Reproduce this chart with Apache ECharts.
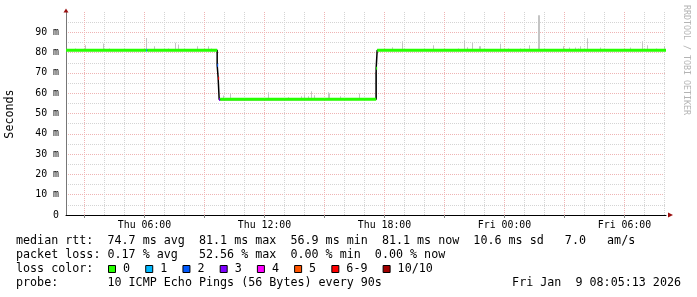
<!DOCTYPE html>
<html><head><meta charset="utf-8">
<script src="https://cdn.jsdelivr.net/npm/echarts@6/dist/echarts.min.js"></script>
<style>html,body{margin:0;padding:0;background:#fff}#c{width:697px;height:297px}</style>
</head><body><div id="c"></div>
<script>
// x unit: minutes since Thu Jan 8 2026 00:00
const xMin = 124.5, xMax = 1924.5;
const xLabelValues = [360, 720, 1080, 1440, 1800];
const xLabelTexts = ['Thu 06:00', 'Thu 12:00', 'Thu 18:00', 'Fri 00:00', 'Fri 06:00'];
const xMajorGrid = [180, 360, 540, 720, 900, 1080, 1260, 1440, 1620, 1800];
const xMinorGrid = [240, 300, 420, 480, 600, 660, 780, 840, 960, 1020, 1140, 1200, 1320, 1380, 1500, 1560, 1680, 1740, 1860, 1920];
const yTickLabels = ['0', '10 m', '20 m', '30 m', '40 m', '50 m', '60 m', '70 m', '80 m', '90 m'];

const lossLabels = ['0', '1', '2', '3', '4', '5', '6-9', '10/10'];
const lossColors = ['#26ff00', '#00b8ff', '#0059ff', '#7e00ff', '#ff00ff', '#ff5500', '#ff0000', '#a10000'];

// median rtt samples: [start, end, value (ms), loss class]
const medianSamples = [
  [124.5, 365, 81.1, 0],
  [365, 368, 81.1, 1],
  [368, 578, 81.1, 0],
  [578, 581, 73.8, 2],
  [581, 584, 67.4, 6],
  [584, 587, 56.9, 3],
  [587, 1055, 57.0, 0],
  [1055, 1058, 72.3, 0],
  [1058, 1924.5, 81.1, 0]
];

// smoke: [time, low, high] (ms)
const smoke = [
  [152, 81.1, 82.0], [183, 81.1, 83.6], [238, 81.1, 84.5], [255, 81.1, 82.0],
  [366, 81.1, 87.2], [390, 81.1, 83.1], [432, 81.1, 82.0], [454, 81.1, 84.8],
  [462, 81.1, 84.0], [520, 81.1, 83.1], [552, 81.1, 83.1], [561, 81.1, 82.0],
  [597, 57.0, 58.9], [618, 57.0, 59.9], [732, 57.0, 60.5], [792, 57.0, 58.0],
  [832, 57.0, 58.5], [841, 57.0, 59.0], [852, 57.0, 58.5], [862, 57.0, 61.0],
  [871, 57.0, 59.0], [912, 57.0, 60.5], [915, 57.0, 60.0], [948, 57.0, 58.5],
  [1005, 57.0, 59.9], [1053.5, 57.0, 70.5],
  [1104, 81.1, 82.6], [1135, 81.1, 85.6], [1228, 81.1, 83.6], [1302, 81.1, 82.0],
  [1321, 81.1, 85.9], [1330, 81.1, 82.6], [1344, 81.1, 84.8], [1366, 81.1, 83.1],
  [1369, 81.1, 83.1], [1429, 81.1, 84.3], [1452, 81.1, 82.0], [1489, 81.1, 82.0],
  [1516, 81.1, 83.6], [1542.5, 81.1, 98.4], [1545.5, 81.1, 98.4], [1618, 81.1, 83.1],
  [1636, 81.1, 82.5], [1653, 81.1, 82.5], [1663, 81.1, 82.0], [1669, 81.1, 83.1],
  [1689, 81.1, 87.1], [1729, 81.1, 82.5], [1819, 81.1, 82.5], [1853, 81.1, 85.6],
  [1870, 81.1, 83.6], [1896, 81.1, 82.0], [1920, 81.1, 83.1]
];

const statsLine1 = 'median rtt:  74.7 ms avg  81.1 ms max  56.9 ms min  81.1 ms now  10.6 ms sd   7.0   am/s';
const statsLine2 = 'packet loss: 0.17 % avg   52.56 % max  0.00 % min  0.00 % now';
const legendTitle = 'loss color:';
const probeLine = 'probe:       10 ICMP Echo Pings (56 Bytes) every 90s';
const dateText = 'Fri Jan  9 08:05:13 2026';
const yName = 'Seconds';
const watermark = 'RRDTOOL / TOBI OETIKER';

const FONT = 'DejaVu Sans Mono';
const CW = 7.024;
const MAJ = '#efb4b4', MIN = '#d4d4d4';

const blackPts = medianSamples.map(s => [s[0], s[2]]);
blackPts.push([medianSamples[medianSamples.length - 1][1], medianSamples[medianSamples.length - 1][2]]);

function txt(x, y, s, extra) {
  return Object.assign({
    type: 'text', x: x, y: y, silent: true,
    style: Object.assign({ text: s, fontFamily: FONT, fontSize: 11.7, fill: '#000',
      align: 'left', verticalAlign: 'middle', textAlign: 'left', textVerticalAlign: 'middle' }, extra && extra.style || {})
  }, extra && extra.el || {});
}

const graphics = [];
graphics.push(txt(16, 241.3, statsLine1));
graphics.push(txt(16, 255.3, statsLine2));
graphics.push(txt(16, 269.2, legendTitle));
graphics.push(txt(16, 283.2, probeLine));
graphics.push(txt(681, 283.2, dateText, { style: { align: 'right', textAlign: 'right' } }));
graphics.push(txt(10, 114, yName, { el: { rotation: Math.PI / 2 }, style: { align: 'center', textAlign: 'center' } }));
graphics.push(txt(686, 5, watermark, { el: { rotation: -Math.PI / 2 }, style: { fontSize: 8.3, fill: '#b4b4b4' } }));
let bx = 108.5;
lossLabels.forEach((lab, i) => {
  graphics.push({ type: 'rect', silent: true, shape: { x: bx, y: 265.5, width: 7, height: 7 },
    style: { fill: lossColors[i], stroke: '#000', lineWidth: 1 } });
  graphics.push(txt(bx + 14.5, 269.2, lab));
  bx += 14.5 + lab.length * CW + 15.7;
});

const chart = echarts.init(document.getElementById('c'), null, { renderer: 'canvas' });
chart.setOption({
  animation: false,
  backgroundColor: '#fff',
  grid: { left: 66, right: 31, top: 12, bottom: 82, containLabel: false, outerBoundsMode: 'none' },
  xAxis: [
    { type: 'value', min: xMin, max: xMax, position: 'bottom',
      axisLine: { show: true, onZero: false, lineStyle: { color: '#000', width: 1 } },
      axisTick: { show: true, customValues: xMajorGrid, length: 3, lineStyle: { color: '#888' } },
      axisLabel: { show: true, customValues: xLabelValues, margin: 5,
        formatter: v => { const i = xLabelValues.indexOf(v); return i >= 0 ? xLabelTexts[i] : ''; },
        fontFamily: FONT, fontSize: 9.9, color: '#000' },
      splitLine: { show: true, lineStyle: { color: MAJ, type: [1, 1], width: 1 } } },
    { type: 'value', min: xMin, max: xMax, position: 'bottom',
      axisLine: { show: false }, axisTick: { show: false, customValues: xMinorGrid },
      axisLabel: { show: false },
      splitLine: { show: true, lineStyle: { color: MIN, type: [1, 1], width: 1 } } },
    { type: 'value', min: xMin, max: xMax, position: 'bottom',
      axisLine: { show: true, onZero: false, symbol: ['none', 'triangle'], symbolSize: [5, 5], symbolOffset: [0, 4.5],
        lineStyle: { color: '#9a1010', width: 0 } },
      axisTick: { show: false }, axisLabel: { show: false }, splitLine: { show: false } }
  ],
  yAxis: [
    { type: 'value', min: 0, max: 100, interval: 10, position: 'left',
      axisLine: { show: true, onZero: false, lineStyle: { color: '#777' } },
      axisTick: { show: false },
      axisLabel: { formatter: v => yTickLabels[Math.round(v / 10)] || '', showMaxLabel: false, margin: 7,
        fontFamily: FONT, fontSize: 9.9, color: '#000' },
      splitLine: { show: true, showMaxLine: false, showMinLine: false, lineStyle: { color: MAJ, type: [1, 1] } },
      minorTick: { show: false, splitNumber: 2 },
      minorSplitLine: { show: true, lineStyle: { color: MIN, type: [1, 1] } } },
    { type: 'value', min: 0, max: 100, position: 'left',
      axisLine: { show: true, onZero: false, symbol: ['none', 'triangle'], symbolSize: [5, 4], symbolOffset: [0, 1.5],
        lineStyle: { color: '#9a1010', width: 0 } },
      axisTick: { show: false }, axisLabel: { show: false }, splitLine: { show: false } }
  ],
  series: [
    { type: 'custom', name: 'smoke', xAxisIndex: 0, yAxisIndex: 0, silent: true, z: 2,
      data: smoke, encode: { x: 0, y: [1, 2] },
      renderItem: (params, api) => {
        const top = api.coord([api.value(0), api.value(2)]);
        const bot = api.coord([api.value(0), api.value(1)]);
        return { type: 'rect', shape: { x: Math.floor(top[0]), y: top[1], width: 1, height: bot[1] - top[1] },
          style: { fill: '#c4c4c4' } };
      } },
    { type: 'line', name: 'median', xAxisIndex: 0, yAxisIndex: 0, silent: true, z: 3,
      data: blackPts, step: 'end', showSymbol: false, symbol: 'none',
      lineStyle: { color: '#000', width: 1.5 } },
    { type: 'custom', name: 'loss', xAxisIndex: 0, yAxisIndex: 0, silent: true, z: 4,
      data: medianSamples, encode: { x: [0, 1], y: 2 },
      renderItem: (params, api) => {
        const a = api.coord([api.value(0), api.value(2)]);
        const b = api.coord([api.value(1), api.value(2)]);
        return { type: 'rect', shape: { x: a[0], y: a[1] - 1.5, width: Math.max(b[0] - a[0], 1), height: 3 },
          style: { fill: lossColors[api.value(3)] } };
      } }
  ],
  graphic: graphics
});
</script>
</body></html>
